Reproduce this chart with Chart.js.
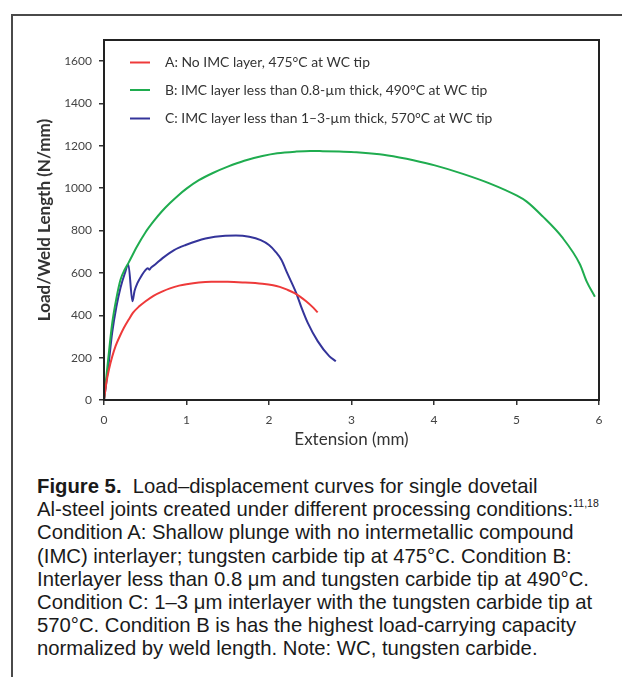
<!DOCTYPE html>
<html>
<head>
<meta charset="utf-8">
<script src="https://cdn.jsdelivr.net/npm/chart.js@4"></script>
<style>
  html, body { margin: 0; padding: 0; background: #fff; }
  body { width: 622px; height: 677px; position: relative; overflow: hidden; }
  #frame { position: absolute; left: 11px; top: 14px; right: -10px; bottom: -10px;
           border-top: 2px solid #4a4a4a; border-left: 2px solid #4a4a4a; }
  #c { position: absolute; left: 0; top: 0; }
  #cap { position: absolute; left: 37px; top: 475px; font-family: "Liberation Sans", Arial, sans-serif;
         font-size: 20.3px; line-height: 23.2px; color: #1a1a1a; white-space: nowrap; }
  #cap sup { font-size: 10.5px; line-height: 0; vertical-align: 9px; }
</style>
</head>
<body>
<div id="frame"></div>
<canvas id="c" width="622" height="460"></canvas>
<div id="cap"><b>Figure 5.</b>&nbsp; Load–displacement curves for single dovetail<br>Al-steel joints created under different processing conditions:<sup>11,18</sup><br>Condition A: Shallow plunge with no intermetallic compound<br>(IMC) interlayer; tungsten carbide tip at 475°C. Condition B:<br>Interlayer less than 0.8 μm and tungsten carbide tip at 490°C.<br>Condition C: 1–3 μm interlayer with the tungsten carbide tip at<br>570°C. Condition B is has the highest load-carrying capacity<br>normalized by weld length. Note: WC, tungsten carbide.</div>
<script>
// ---- Data ----
const seriesLabels = [
  "A: No IMC layer, 475°C at WC tip",
  "B: IMC layer less than 0.8-µm thick, 490°C at WC tip",
  "C: IMC layer less than 1–3-µm thick, 570°C at WC tip"
];
const xA = [0, 0.03, 0.06, 0.1, 0.14, 0.19, 0.24, 0.3, 0.35, 0.42, 0.5, 0.6, 0.71, 0.8, 0.91, 1.0, 1.15, 1.3, 1.5, 1.7, 1.92, 2.05, 2.13, 2.22, 2.31, 2.38, 2.45, 2.52, 2.59];
const yA = [0, 85, 144, 205, 254, 300, 340, 380, 411, 440, 465, 492, 513, 527, 540, 547, 555, 558, 558, 555, 549, 542, 534, 521, 505, 487, 466, 442, 414];
const xB = [0, 0.05, 0.1, 0.15, 0.2, 0.25, 0.3, 0.4, 0.5, 0.6, 0.7, 0.8, 0.9, 1.0, 1.15, 1.32, 1.5, 1.7, 1.92, 2.1, 2.33, 2.5, 2.65, 2.85, 3.06, 3.34, 3.58, 3.75, 4.01, 4.35, 4.68, 5.0, 5.12, 5.32, 5.55, 5.77, 5.85, 5.95];
const yB = [0, 190, 364, 480, 568, 615, 650, 725, 790, 843, 890, 930, 966, 998, 1038, 1072, 1102, 1130, 1152, 1165, 1173, 1176, 1175, 1173, 1170, 1160, 1145, 1132, 1108, 1068, 1022, 966, 938, 866, 770, 640, 560, 488];
const xC = [0, 0.05, 0.1, 0.15, 0.2, 0.25, 0.295, 0.345, 0.37, 0.405, 0.46, 0.5, 0.53, 0.55, 0.57, 0.62, 0.71, 0.85, 0.99, 1.23, 1.47, 1.6, 1.76, 1.9, 2.0, 2.08, 2.15, 2.22, 2.33, 2.4, 2.47, 2.59, 2.73, 2.81];
const yC = [0, 150, 320, 440, 530, 595, 640, 466, 515, 552, 590, 612, 622, 615, 625, 640, 670, 708, 732, 763, 776, 777, 771, 755, 732, 700, 662, 600, 505, 430, 364, 278, 207, 183];
const xTicks = [0, 1, 2, 3, 4, 5, 6];
const yTicks = [0, 200, 400, 600, 800, 1000, 1200, 1400, 1600];
const colors = ["#ee3a3a", "#1fac4f", "#34349a"];

const pts = (xs, ys) => xs.map((x, i) => ({ x: x, y: ys[i] }));

const FONT = "Lato, 'Open Sans', sans-serif";

const boxPlugin = {
  id: 'box',
  afterDatasetsDraw(chart) {
    const { ctx, chartArea: a } = chart;
    ctx.save();
    ctx.strokeStyle = '#222';
    ctx.lineWidth = 2;
    ctx.strokeRect(a.left, a.top, a.right - a.left, a.bottom - a.top);
    ctx.restore();
  }
};

const legendPlugin = {
  id: 'inlegend',
  afterDraw(chart) {
    const { ctx } = chart;
    const rows = [62.5, 90, 118.5];
    ctx.save();
    ctx.font = "13.9px " + FONT;
    ctx.textBaseline = 'middle';
    chart.data.datasets.forEach((ds, i) => {
      ctx.strokeStyle = ds.borderColor;
      ctx.lineWidth = 2;
      ctx.beginPath();
      ctx.moveTo(130, rows[i]);
      ctx.lineTo(150, rows[i]);
      ctx.stroke();
      ctx.fillStyle = '#333';
      ctx.fillText(ds.label, 165, rows[i] + 0.5);
    });
    ctx.restore();
  }
};

new Chart(document.getElementById('c'), {
  type: 'scatter',
  data: {
    datasets: [
      { label: seriesLabels[0], data: pts(xA, yA), borderColor: colors[0] },
      { label: seriesLabels[1], data: pts(xB, yB), borderColor: colors[1] },
      { label: seriesLabels[2], data: pts(xC, yC), borderColor: colors[2] }
    ].map(d => Object.assign(d, {
      showLine: true, pointRadius: 0, borderWidth: 2, fill: false,
      cubicInterpolationMode: 'monotone', backgroundColor: d.borderColor
    }))
  },
  options: {
    responsive: false,
    animation: false,
    devicePixelRatio: 1,
    layout: { padding: { left: 0, right: 23, top: 40, bottom: 0 } },
    plugins: { legend: { display: false }, tooltip: { enabled: false } },
    scales: {
      x: {
        type: 'linear', min: 0, max: 6,
        afterBuildTicks: s => { s.ticks = xTicks.map(v => ({ value: v })); },
        afterFit: s => { s.height = 60; },
        ticks: { font: { family: FONT, size: 12 }, color: '#444', padding: 8, maxRotation: 0,
                 callback: v => String(v) },
        grid: { drawOnChartArea: false, drawTicks: true, tickLength: 5, color: '#333', lineWidth: 1.5 },
        border: { display: true, color: '#222', width: 2 },
        title: { display: true, text: 'Extension (mm)', color: '#333',
                 font: { family: FONT, size: 17 }, padding: { top: 0, bottom: 9.8 } }
      },
      y: {
        type: 'linear', min: 0, max: 1700,
        afterBuildTicks: s => { s.ticks = yTicks.map(v => ({ value: v })); },
        afterFit: s => { s.width = 104; },
        ticks: { font: { family: FONT, size: 12 }, color: '#444', padding: 7,
                 callback: v => String(v) },
        grid: { drawOnChartArea: false, drawTicks: true, tickLength: 5, color: '#333', lineWidth: 1.5 },
        border: { display: true, color: '#222', width: 2 },
        title: { display: true, text: 'Load/Weld Length (N/mm)', color: '#333',
                 font: { family: FONT, size: 17, weight: 'bold' }, padding: { top: 34.8, bottom: 0 } }
      }
    }
  },
  plugins: [boxPlugin, legendPlugin]
});
</script>
</body>
</html>
